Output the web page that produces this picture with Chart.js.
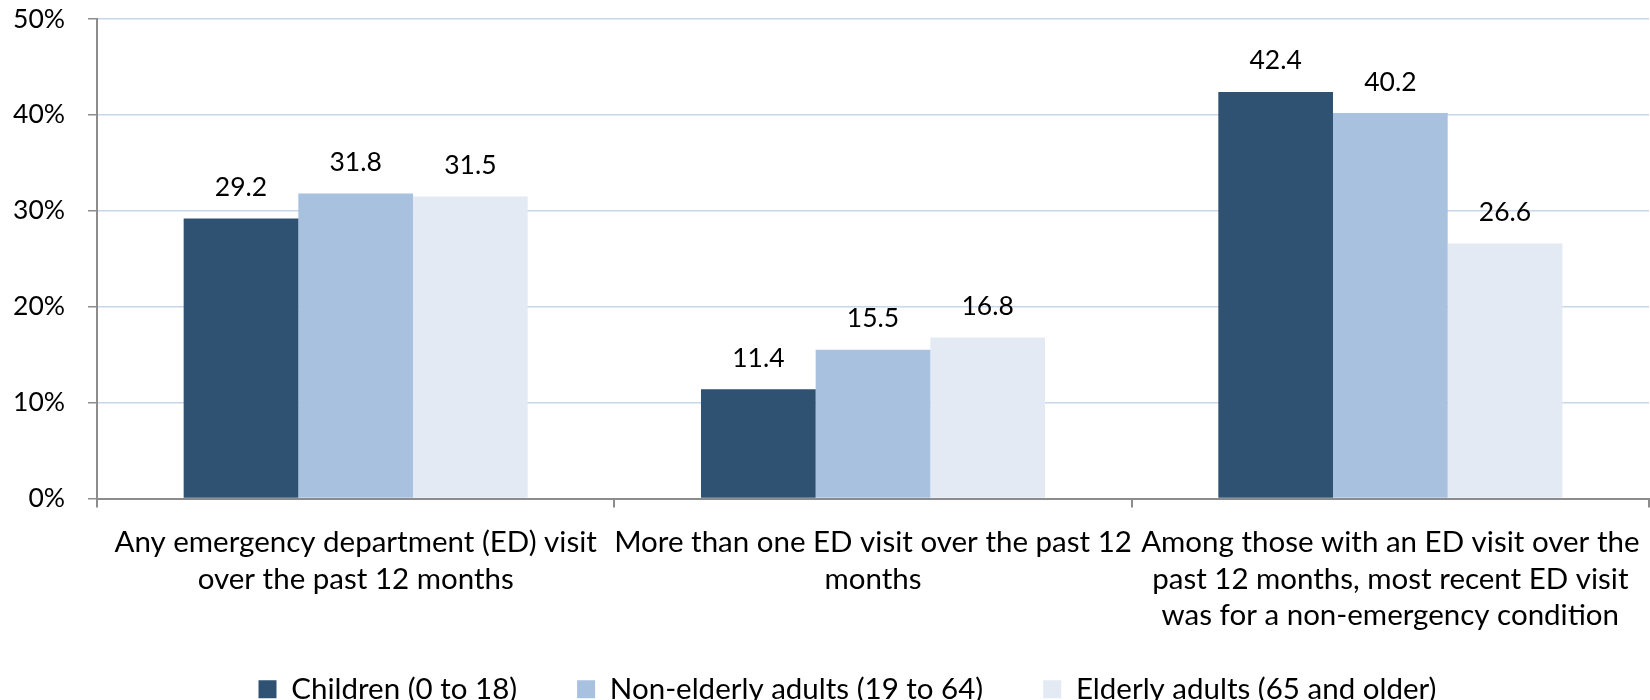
<!DOCTYPE html>
<html>
<head>
<meta charset="utf-8">
<script src="https://cdn.jsdelivr.net/npm/chart.js@4.4.1/dist/chart.umd.min.js"></script>
<style>
  html, body { margin: 0; padding: 0; background: #fff; }
  #wrap { width: 1650px; height: 700px; }
</style>
</head>
<body>
<div id="wrap"><canvas id="edChart"></canvas></div>
<script>
// --- data ---
const categories = [
    ['Any emergency department (ED) visit', 'over the past 12 months'],
    ['More than one ED visit over the past 12', 'months'],
    ['Among those with an ED visit over the', 'past 12 months, most recent ED visit', 'was for a non-emergency condition']
];
const seriesNames = ['Children (0 to 18)', 'Non-elderly adults (19 to 64)', 'Elderly adults (65 and older)'];
const children = [29.2, 11.4, 42.4];
const nonElderly = [31.8, 15.5, 40.2];
const elderly = [31.5, 16.8, 26.6];
const yTicks = [0, 10, 20, 30, 40, 50];

const colors = ['#2F5172', '#A7C1DF', '#E3EAF4'];
const FONT = 'Lato';

// draws the value above each bar
const barValueLabels = {
    id: 'barValueLabels',
    afterDatasetsDraw(chart) {
        const ctx = chart.ctx;
        ctx.save();
        ctx.font = `26.5px ${FONT}`;
        ctx.fillStyle = '#000';
        ctx.textAlign = 'center';
        ctx.textBaseline = 'middle';
        chart.data.datasets.forEach((ds, i) => {
            const meta = chart.getDatasetMeta(i);
            meta.data.forEach((bar, j) => {
                ctx.fillText(ds.data[j].toFixed(1), bar.x, bar.y - 31);
            });
        });
        ctx.restore();
    }
};

// let the 3-line x labels overflow the axis box and nudge the legend
const layoutTweaks = {
    id: 'layoutTweaks',
    afterLayout(chart) {
        chart.scales.x.bottom = chart.height;
        const lg = chart.legend;
        lg.left += 23; lg.right += 23;
        lg.top += 6; lg.bottom += 6;
        if (lg.adjustHitBoxes) lg.adjustHitBoxes();
    }
};

new Chart(document.getElementById('edChart'), {
    type: 'bar',
    data: {
        labels: categories,
        datasets: [
            { label: seriesNames[0], data: children, backgroundColor: colors[0] },
            { label: seriesNames[1], data: nonElderly, backgroundColor: colors[1] },
            { label: seriesNames[2], data: elderly, backgroundColor: colors[2] }
        ]
    },
    options: {
        responsive: true, maintainAspectRatio: false,
        animation: false,
        layout: { padding: { top: 19, right: 1, left: 0, bottom: -8 } },
        datasets: { bar: { categoryPercentage: 0.665, barPercentage: 1 } },
        plugins: {
            legend: {
                position: 'bottom',
                labels: {
                    font: { family: FONT, size: 29.5 },
                    color: '#000',
                    boxWidth: 18, boxHeight: 18,
                    padding: 60
                }
            },
            tooltip: { enabled: false }
        },
        scales: {
            x: {
                grid: { offset: true, drawOnChartArea: false, tickLength: 9, color: '#8C8C8C', lineWidth: 2 },
                border: { color: '#8C8C8C', width: 2 },
                ticks: {
                    font: { family: FONT, size: 29.5, lineHeight: 1.254 },
                    color: '#000', maxRotation: 0, autoSkip: false, padding: 16
                },
                afterFit: (scale) => {
                    scale.height = 110;
                    scale.paddingLeft = 0; scale.paddingRight = 0;
                }
            },
            y: {
                min: 0, max: 50,
                afterBuildTicks: (scale) => { scale.ticks = yTicks.map(v => ({ value: v })); },
                grid: {
                    color: (c) => c.tick && c.tick.value === 0 ? '#8C8C8C' : '#C6D6EE',
                    tickColor: '#8C8C8C', tickLength: 9, lineWidth: 1.5
                },
                border: { color: '#8C8C8C', width: 2 },
                ticks: {
                    font: { family: FONT, size: 26.5 }, color: '#000', padding: 23,
                    callback: (v) => v + '%'
                },
                afterFit: (scale) => {
                    scale.width = 97;
                    scale.paddingTop = 0; scale.paddingBottom = 0;
                }
            }
        }
    },
    plugins: [barValueLabels, layoutTweaks]
});
</script>
</body>
</html>
